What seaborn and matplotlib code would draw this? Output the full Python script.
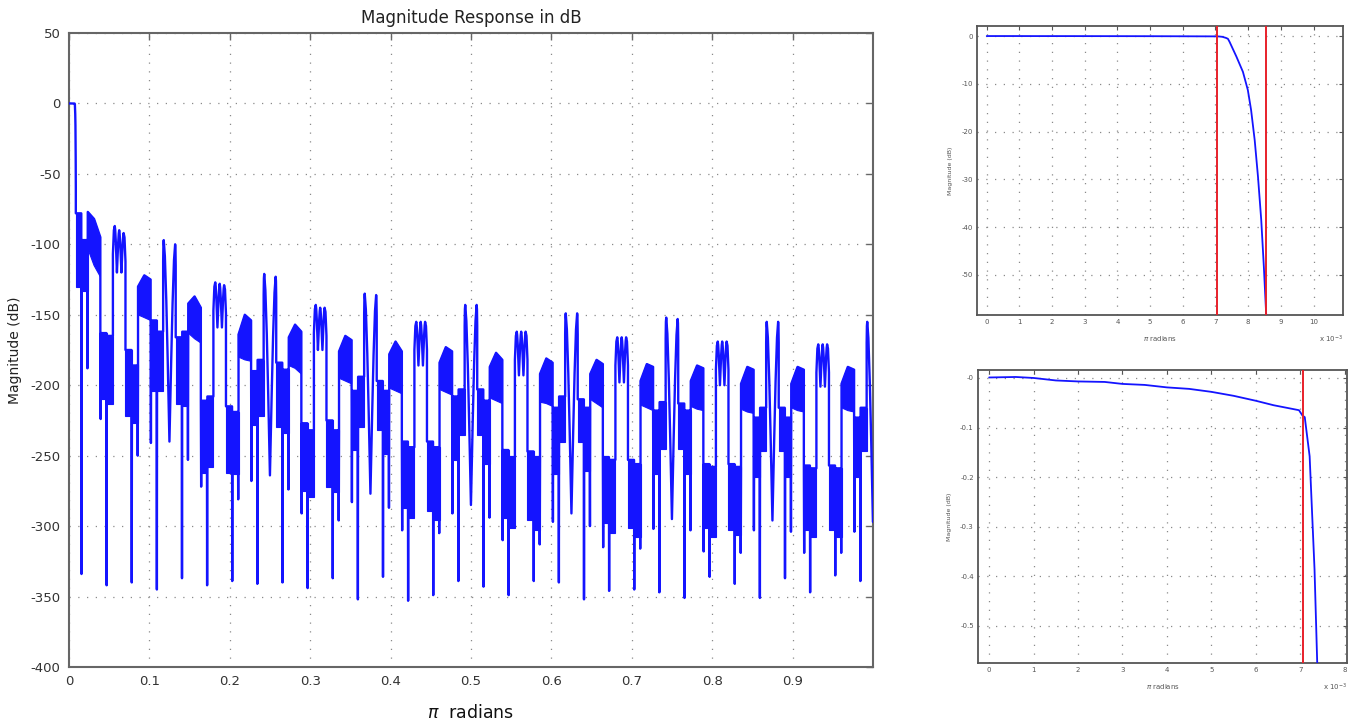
import numpy as np
import pandas as pd
import matplotlib
matplotlib.use("Agg")
import matplotlib.pyplot as plt
import seaborn as sns

sns.set_style("white")
plt.rcParams["font.family"] = ["DejaVu Sans"]
plt.rcParams["axes.unicode_minus"] = False

BLUE = "#1414ff"
RED = "#e8202a"

# passband (x in 1e-3 * pi rad, dB)
pb_x = [0, 0.6, 1.0, 1.5, 2.0, 2.6, 3.0, 3.5, 4.0, 4.5, 5.0, 5.5, 6.0, 6.4, 6.97,
        7.05, 7.1, 7.21, 7.32, 7.38, 7.43, 7.64, 7.84, 7.99, 8.09, 8.2, 8.3, 8.4,
        8.48, 8.56]
pb_db = [0.001, 0.002, 0, -0.005, -0.007, -0.008, -0.012, -0.014, -0.019, -0.022,
         -0.028, -0.036, -0.046, -0.055, -0.065, -0.076, -0.079, -0.158, -0.386,
         -0.573, -1.2, -4.3, -7.5, -11.3, -15.5, -21.8, -29.4, -38.5, -48.3, -59.5]
pass_edge = 7.05
stop_edge = 8.55

# stopband is made of 1/64 wide sub-bands, sub-band k centred at k/64
# double lobes, k = 8, 16, ..., 64
d_peak_l = [-97, -121, -135, -143, -149, -152, -155, -155]
d_peak_r = [-100, -123, -136, -143, -149, -153, -155, -155]
d_dip = [-240, -264, -277, -285, -291, -295, -296, -297]

# triple lobes, k = 4, 12, ..., 60
t_peak1 = [-87, -127, -143, -155, -162, -166, -169, -171]
t_peak2 = [-90, -128, -145, -155, -162, -166, -169, -171]
t_peak3 = [-92, -129, -145, -155, -162, -166, -169, -171]
t_dip = [-120, -159, -175, -186, -193, -198, -200, -201]

# dense high bands, k = 2, 6, ..., 62
h_top_l = [-77, -130, -142, -164, -166, -176, -178, -184,
           -187, -192, -192, -197, -197, -199, -199, -199]
h_top_m = [-82, -122, -137, -150, -157, -165, -169, -173,
           -177, -181, -182, -185, -186, -187, -187, -187]
h_top_r = [-95, -125, -145, -154, -162, -168, -176, -176,
           -182, -184, -185, -187, -188, -189, -189, -189]
h_bot_l = [-103, -150, -163, -180, -186, -195, -202, -203,
           -209, -212, -210, -214, -215, -217, -216, -216]
h_bot_m = [-115, -152, -167, -182, -188, -197, -204, -205,
           -211, -213, -213, -216, -217, -219, -218, -218]
h_bot_r = [-123, -154, -170, -183, -192, -199, -206, -207,
           -213, -215, -216, -218, -218, -220, -219, -219]

# dense bands with a deep null, k = 1, 3, ..., 63
o_top_l = [-78, -163, -175, -154, -166, -211, -215, -190,
           -184, -227, -225, -204, -197, -240, -240, -208,
           -203, -246, -247, -216, -210, -251, -253, -218,
           -213, -256, -256, -223, -216, -257, -257, -223]
o_top_r = [-97, -165, -186, -162, -162, -208, -219, -182,
           -189, -232, -232, -194, -204, -244, -244, -203,
           -211, -251, -251, -208, -216, -253, -256, -212,
           -218, -258, -258, -216, -223, -259, -259, -216]
o_bot_l = [-130, -210, -222, -204, -213, -262, -262, -228,
           -230, -275, -272, -246, -232, -287, -289, -253,
           -235, -294, -296, -263, -240, -298, -301, -263,
           -245, -301, -303, -265, -247, -303, -303, -265]
o_bot_r = [-133, -213, -227, -204, -215, -258, -263, -222,
           -234, -279, -276, -230, -249, -294, -296, -235,
           -256, -301, -303, -240, -261, -305, -308, -245,
           -263, -308, -306, -247, -265, -308, -308, -247]
o_null = [-334, -342, -340, -345, -337, -342, -339, -341,
          -340, -344, -337, -352, -336, -353, -349, -339,
          -343, -349, -339, -340, -352, -346, -345, -347,
          -351, -336, -341, -351, -337, -347, -335, -339]
o_spike = [-188, -224, -250, -241, -253, -272, -281, -268,
           -274, -291, -296, -283, -287, -303, -305, -291,
           -294, -310, -313, -297, -300, -315, -316, -302,
           -303, -318, -319, -303, -304, -319, -319, -304]

BAND = 1 / 64
lobe = [(0.2, 0.08), (0.45, 0.3), (0.7, 0.6)]  # lobe flank shape, peak -> null


def flank(x0, y0, x1, y1):
    return [(x0 + f * (x1 - x0), y0 + g * (y1 - y0)) for f, g in lobe]


pts = [(x * 1e-3, y) for x, y in zip(pb_x, pb_db)]
bands = []
start = pb_x[-1] * 1e-3
for k in range(1, 65):
    c = k * BAND
    lo, hi = c - BAND / 2, c + BAND / 2
    if k % 2:
        i = (k - 1) // 2
        lo = max(lo, start)
        tl, tr, bl, br = o_top_l[i], o_top_r[i], o_bot_l[i], o_bot_r[i]
        bands.append([(lo, tl), (c, tl), (c, tr), (hi, tr), (hi, br), (c, br), (c, bl), (lo, bl)])
        seg = [(lo, tl)]
        if k % 4 == 3:
            seg += [(lo + 0.0004, o_spike[i]), (lo + 0.0008, tl)]
        seg += [(c - 0.0003, tl), (c, o_null[i]), (c + 0.0003, tr)]
        if k % 4 == 1:
            seg += [(hi - 0.0008, tr), (hi - 0.0004, o_spike[i])]
        seg += [(hi, tr)]
    elif k % 8 == 0:
        i = k // 8 - 1
        pl, pr, dp = d_peak_l[i], d_peak_r[i], d_dip[i]
        xl, xr = c - 0.0071, c + 0.0071
        seg = ([(lo, pl - 15), (c - 0.0075, pl - 3), (xl, pl)] + flank(xl, pl, c, dp) + [(c, dp)]
               + flank(xr, pr, c, dp)[::-1] + [(xr, pr), (c + 0.0075, pr - 3), (hi, pr - 15)])
    elif k % 8 == 4:
        i = k // 8
        p1, p2, p3, dp = t_peak1[i], t_peak2[i], t_peak3[i], t_dip[i]
        x1, x2, x3 = c - 0.0055, c, c + 0.0055
        dl, dr = c - 0.0028, c + 0.0028
        seg = ([(lo, p1 - 20), (c - 0.0066, p1 - 3), (x1, p1)] + flank(x1, p1, dl, dp) + [(dl, dp)]
               + flank(x2, p2, dl, dp)[::-1] + [(x2, p2)] + flank(x2, p2, dr, dp) + [(dr, dp)]
               + flank(x3, p3, dr, dp)[::-1] + [(x3, p3), (c + 0.0066, p3 - 3), (hi, p3 - 20)])
    else:
        i = k // 4
        bands.append([(lo, h_top_l[i]), (c, h_top_m[i]), (hi, h_top_r[i]),
                      (hi, h_bot_r[i]), (c, h_bot_m[i]), (lo, h_bot_l[i])])
        seg = [(lo, h_top_l[i]), (c, h_top_m[i]), (hi, h_top_r[i])]
    pts += seg

main = pd.DataFrame(pts, columns=["w", "db"])
pb = pd.DataFrame({"w": pb_x, "db": pb_db})

fig = plt.figure(figsize=(13.49, 7.25), dpi=100)
ax = fig.add_axes([0.0511, 0.080, 0.5960, 0.8745])
ax1 = fig.add_axes([0.7242, 0.5655, 0.2713, 0.3986])
ax2 = fig.add_axes([0.7250, 0.0855, 0.2735, 0.4041])

grid_kw = dict(color="#8a8a8a", linestyle=(0, (1, 6)), linewidth=0.9)

# main magnitude response
for poly in bands:
    xs, ys = zip(*poly)
    ax.fill(xs, ys, color=BLUE, lw=0.8, zorder=2)
sns.lineplot(data=main, x="w", y="db", ax=ax, color=BLUE, lw=1.7,
             estimator=None, sort=False, zorder=3)
ax.set_xlim(0, 1)
ax.set_ylim(-400, 50)
ax.set_xticks(np.arange(0, 1, 0.1))
ax.set_xticklabels(["0"] + ["0.%d" % d for d in range(1, 10)])
ax.set_yticks(np.arange(-400, 51, 50))
ax.set_title("Magnitude Response in dB", fontsize=12, color="#222222", pad=7)
ax.set_xlabel(r"$\pi$  radians", fontsize=12.5, color="#111111", labelpad=11)
ax.set_ylabel("Magnitude (dB)", fontsize=10, color="#222222", labelpad=6)
ax.grid(True, **grid_kw)
ax.tick_params(direction="in", top=True, right=True, length=5, width=1,
               color="#666666", labelsize=9.5, labelcolor="#333333", pad=6)
for s in ax.spines.values():
    s.set_color("#666666")
    s.set_linewidth(1.5)

# zoomed passband views
insets = [
    (ax1, (-0.3, 10.9), (-58.4, 2.1), np.arange(0, 11), np.arange(-50, 1, 10), [pass_edge, stop_edge]),
    (ax2, (-0.25, 8.05), (-0.575, 0.016), np.arange(0, 9), np.round(np.arange(-0.5, 0.01, 0.1), 1), [pass_edge]),
]
for a, xl, yl, xt, yt, edges in insets:
    sns.lineplot(data=pb, x="w", y="db", ax=a, color=BLUE, lw=1.3,
                 estimator=None, sort=False, zorder=3)
    for e in edges:
        a.axvline(e, color=RED, lw=1.4, zorder=4)
    a.set_xlim(*xl)
    a.set_ylim(*yl)
    a.set_xticks(xt)
    a.set_yticks(yt)
    a.set_yticklabels(["%g" % v for v in yt])
    a.grid(True, **grid_kw)
    a.tick_params(direction="in", top=True, right=True, length=3, width=0.8,
                  color="#555555", labelsize=5, labelcolor="#555555", pad=3)
    a.set_xlabel(r"$\pi$ radians", fontsize=5, color="#555555", labelpad=6)
    a.set_ylabel("Magnitude (dB)", fontsize=4.5, color="#555555", labelpad=6)
    a.text(1.0, -0.065, r"x 10$^{-3}$", transform=a.transAxes, ha="right",
           va="top", fontsize=5, color="#555555")
    for s in a.spines.values():
        s.set_color("#555555")
        s.set_linewidth(1.3)

fig.savefig("out.png", dpi=100)
